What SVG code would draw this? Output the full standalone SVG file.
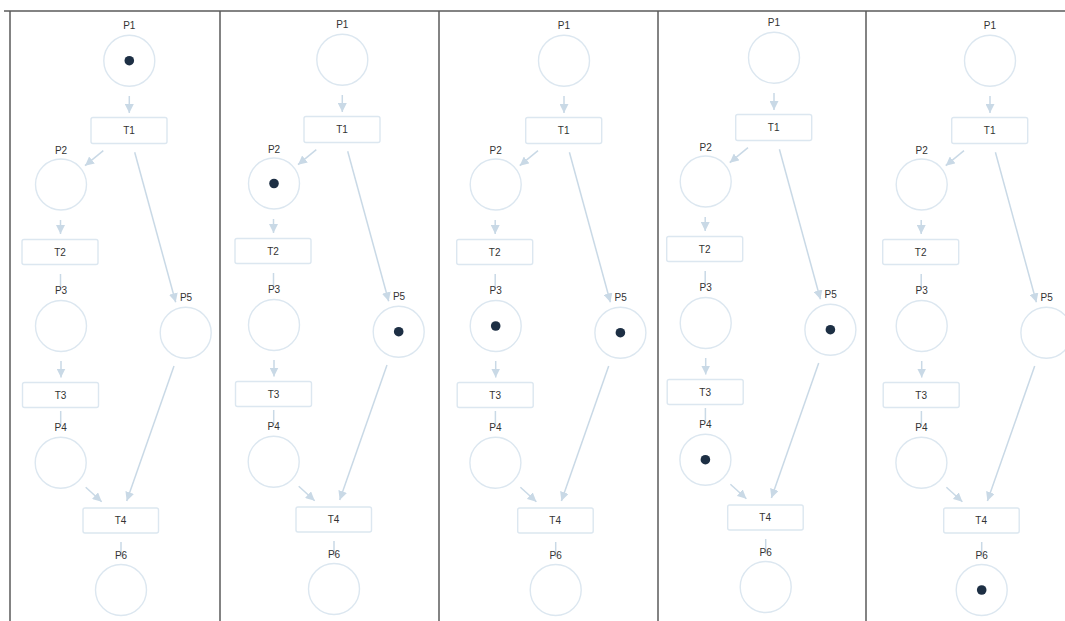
<svg xmlns="http://www.w3.org/2000/svg" width="1065" height="621" viewBox="0 0 1065 621">
<style>
.bg{fill:#ffffff}
.frame{stroke:#5a5a5a;stroke-width:1.5;fill:none}
.place{fill:#ffffff;stroke:#dce7f0;stroke-width:1.4}
.trans{fill:#ffffff;stroke:#dce7f0;stroke-width:1.4}
.lbl{font-family:"Liberation Sans",Arial,sans-serif;font-size:10px;fill:#333333;text-anchor:middle;dominant-baseline:central}
.arc{stroke:#c9d9e6;stroke-width:1.5;fill:none}
.arr{marker-end:url(#ah)}
.tok{fill:#1d2f44}
</style>
<defs>
<marker id="ah" markerUnits="userSpaceOnUse" markerWidth="9" markerHeight="9" refX="8" refY="4" orient="auto" viewBox="0 0 8 8">
<path d="M0,0 L8,4 L0,8 z" fill="#c9d9e6"/>
</marker>
</defs>
<rect class="bg" x="0" y="0" width="1065" height="621"/>
<g id="frames">
<line class="frame" x1="4" y1="11" x2="1065" y2="11"/>
<line class="frame" x1="10" y1="11" x2="10" y2="621"/>
<line class="frame" x1="220" y1="11" x2="220" y2="621"/>
<line class="frame" x1="439" y1="11" x2="439" y2="621"/>
<line class="frame" x1="658" y1="11" x2="658" y2="621"/>
<line class="frame" x1="866" y1="11" x2="866" y2="621"/>
</g>

<!-- Panel 1 -->
<g id="panel1">
<g id="panel1-connectors">
<line class="arc arr" x1="129.3" y1="96" x2="129.3" y2="113"/>
<line class="arc arr" x1="103.3" y1="150.7" x2="85" y2="165.7"/>
<line class="arc arr" x1="134.7" y1="152.3" x2="175.7" y2="302.3"/>
<line class="arc arr" x1="60.5" y1="220" x2="60.5" y2="234"/>
<line class="arc" x1="60.5" y1="274" x2="60.5" y2="289"/>
<line class="arc arr" x1="61" y1="361" x2="61" y2="377.5"/>
<line class="arc" x1="60.7" y1="411" x2="60.7" y2="426"/>
<line class="arc arr" x1="174" y1="366" x2="126.7" y2="501"/>
<line class="arc arr" x1="85.7" y1="487.3" x2="101.7" y2="501.7"/>
<line class="arc" x1="121" y1="542" x2="121" y2="557"/>
</g>
<g id="panel1-P1"><text class="lbl" x="129.3" y="25">P1</text><circle class="place" cx="129.3" cy="60.7" r="25.5"/><circle class="tok" cx="129.3" cy="60.7" r="4.8"/></g>
<g id="panel1-T1"><rect class="trans" x="91" y="117.5" width="76" height="26" rx="2"/><text class="lbl" x="129" y="130.5">T1</text></g>
<g id="panel1-P2"><text class="lbl" x="61" y="150">P2</text><circle class="place" cx="61" cy="184.5" r="25.5"/></g>
<g id="panel1-T2"><rect class="trans" x="22" y="239.5" width="76" height="25" rx="2"/><text class="lbl" x="60" y="252">T2</text></g>
<g id="panel1-P3"><text class="lbl" x="61" y="290.5">P3</text><circle class="place" cx="61" cy="326" r="25.5"/></g>
<g id="panel1-P5"><text class="lbl" x="186" y="297.3">P5</text><circle class="place" cx="185.7" cy="332.7" r="25.5"/></g>
<g id="panel1-T3"><rect class="trans" x="22.5" y="382.5" width="76" height="25" rx="2"/><text class="lbl" x="60.5" y="395">T3</text></g>
<g id="panel1-P4"><text class="lbl" x="60.7" y="427.5">P4</text><circle class="place" cx="60.7" cy="462.7" r="25.5"/></g>
<g id="panel1-T4"><rect class="trans" x="83" y="508" width="75.5" height="25" rx="2"/><text class="lbl" x="120.5" y="520.5">T4</text></g>
<g id="panel1-P6"><text class="lbl" x="121" y="555">P6</text><circle class="place" cx="121" cy="590" r="25.5"/></g>
</g>

<!-- Panel 2 -->
<g id="panel2" transform="translate(213,-1)">
<g id="panel2-connectors">
<line class="arc arr" x1="129.3" y1="96" x2="129.3" y2="113"/>
<line class="arc arr" x1="103.3" y1="150.7" x2="85" y2="165.7"/>
<line class="arc arr" x1="134.7" y1="152.3" x2="175.7" y2="302.3"/>
<line class="arc arr" x1="60.5" y1="220" x2="60.5" y2="234"/>
<line class="arc" x1="60.5" y1="274" x2="60.5" y2="289"/>
<line class="arc arr" x1="61" y1="361" x2="61" y2="377.5"/>
<line class="arc" x1="60.7" y1="411" x2="60.7" y2="426"/>
<line class="arc arr" x1="174" y1="366" x2="126.7" y2="501"/>
<line class="arc arr" x1="85.7" y1="487.3" x2="101.7" y2="501.7"/>
<line class="arc" x1="121" y1="542" x2="121" y2="557"/>
</g>
<g id="panel2-P1"><text class="lbl" x="129.3" y="25">P1</text><circle class="place" cx="129.3" cy="60.7" r="25.5"/></g>
<g id="panel2-T1"><rect class="trans" x="91" y="117.5" width="76" height="26" rx="2"/><text class="lbl" x="129" y="130.5">T1</text></g>
<g id="panel2-P2"><text class="lbl" x="61" y="150">P2</text><circle class="place" cx="61" cy="184.5" r="25.5"/><circle class="tok" cx="61" cy="184.5" r="4.8"/></g>
<g id="panel2-T2"><rect class="trans" x="22" y="239.5" width="76" height="25" rx="2"/><text class="lbl" x="60" y="252">T2</text></g>
<g id="panel2-P3"><text class="lbl" x="61" y="290.5">P3</text><circle class="place" cx="61" cy="326" r="25.5"/></g>
<g id="panel2-P5"><text class="lbl" x="186" y="297.3">P5</text><circle class="place" cx="185.7" cy="332.7" r="25.5"/><circle class="tok" cx="185.7" cy="332.7" r="4.8"/></g>
<g id="panel2-T3"><rect class="trans" x="22.5" y="382.5" width="76" height="25" rx="2"/><text class="lbl" x="60.5" y="395">T3</text></g>
<g id="panel2-P4"><text class="lbl" x="60.7" y="427.5">P4</text><circle class="place" cx="60.7" cy="462.7" r="25.5"/></g>
<g id="panel2-T4"><rect class="trans" x="83" y="508" width="75.5" height="25" rx="2"/><text class="lbl" x="120.5" y="520.5">T4</text></g>
<g id="panel2-P6"><text class="lbl" x="121" y="555">P6</text><circle class="place" cx="121" cy="590" r="25.5"/></g>
</g>

<!-- Panel 3 -->
<g id="panel3" transform="translate(434.7,0)">
<g id="panel3-connectors">
<line class="arc arr" x1="129.3" y1="96" x2="129.3" y2="113"/>
<line class="arc arr" x1="103.3" y1="150.7" x2="85" y2="165.7"/>
<line class="arc arr" x1="134.7" y1="152.3" x2="175.7" y2="302.3"/>
<line class="arc arr" x1="60.5" y1="220" x2="60.5" y2="234"/>
<line class="arc" x1="60.5" y1="274" x2="60.5" y2="289"/>
<line class="arc arr" x1="61" y1="361" x2="61" y2="377.5"/>
<line class="arc" x1="60.7" y1="411" x2="60.7" y2="426"/>
<line class="arc arr" x1="174" y1="366" x2="126.7" y2="501"/>
<line class="arc arr" x1="85.7" y1="487.3" x2="101.7" y2="501.7"/>
<line class="arc" x1="121" y1="542" x2="121" y2="557"/>
</g>
<g id="panel3-P1"><text class="lbl" x="129.3" y="25">P1</text><circle class="place" cx="129.3" cy="60.7" r="25.5"/></g>
<g id="panel3-T1"><rect class="trans" x="91" y="117.5" width="76" height="26" rx="2"/><text class="lbl" x="129" y="130.5">T1</text></g>
<g id="panel3-P2"><text class="lbl" x="61" y="150">P2</text><circle class="place" cx="61" cy="184.5" r="25.5"/></g>
<g id="panel3-T2"><rect class="trans" x="22" y="239.5" width="76" height="25" rx="2"/><text class="lbl" x="60" y="252">T2</text></g>
<g id="panel3-P3"><text class="lbl" x="61" y="290.5">P3</text><circle class="place" cx="61" cy="326" r="25.5"/><circle class="tok" cx="61" cy="326" r="4.8"/></g>
<g id="panel3-P5"><text class="lbl" x="186" y="297.3">P5</text><circle class="place" cx="185.7" cy="332.7" r="25.5"/><circle class="tok" cx="185.7" cy="332.7" r="4.8"/></g>
<g id="panel3-T3"><rect class="trans" x="22.5" y="382.5" width="76" height="25" rx="2"/><text class="lbl" x="60.5" y="395">T3</text></g>
<g id="panel3-P4"><text class="lbl" x="60.7" y="427.5">P4</text><circle class="place" cx="60.7" cy="462.7" r="25.5"/></g>
<g id="panel3-T4"><rect class="trans" x="83" y="508" width="75.5" height="25" rx="2"/><text class="lbl" x="120.5" y="520.5">T4</text></g>
<g id="panel3-P6"><text class="lbl" x="121" y="555">P6</text><circle class="place" cx="121" cy="590" r="25.5"/></g>
</g>

<!-- Panel 4 -->
<g id="panel4" transform="translate(644.7,-3)">
<g id="panel4-connectors">
<line class="arc arr" x1="129.3" y1="96" x2="129.3" y2="113"/>
<line class="arc arr" x1="103.3" y1="150.7" x2="85" y2="165.7"/>
<line class="arc arr" x1="134.7" y1="152.3" x2="175.7" y2="302.3"/>
<line class="arc arr" x1="60.5" y1="220" x2="60.5" y2="234"/>
<line class="arc" x1="60.5" y1="274" x2="60.5" y2="289"/>
<line class="arc arr" x1="61" y1="361" x2="61" y2="377.5"/>
<line class="arc" x1="60.7" y1="411" x2="60.7" y2="426"/>
<line class="arc arr" x1="174" y1="366" x2="126.7" y2="501"/>
<line class="arc arr" x1="85.7" y1="487.3" x2="101.7" y2="501.7"/>
<line class="arc" x1="121" y1="542" x2="121" y2="557"/>
</g>
<g id="panel4-P1"><text class="lbl" x="129.3" y="25">P1</text><circle class="place" cx="129.3" cy="60.7" r="25.5"/></g>
<g id="panel4-T1"><rect class="trans" x="91" y="117.5" width="76" height="26" rx="2"/><text class="lbl" x="129" y="130.5">T1</text></g>
<g id="panel4-P2"><text class="lbl" x="61" y="150">P2</text><circle class="place" cx="61" cy="184.5" r="25.5"/></g>
<g id="panel4-T2"><rect class="trans" x="22" y="239.5" width="76" height="25" rx="2"/><text class="lbl" x="60" y="252">T2</text></g>
<g id="panel4-P3"><text class="lbl" x="61" y="290.5">P3</text><circle class="place" cx="61" cy="326" r="25.5"/></g>
<g id="panel4-P5"><text class="lbl" x="186" y="297.3">P5</text><circle class="place" cx="185.7" cy="332.7" r="25.5"/><circle class="tok" cx="185.7" cy="332.7" r="4.8"/></g>
<g id="panel4-T3"><rect class="trans" x="22.5" y="382.5" width="76" height="25" rx="2"/><text class="lbl" x="60.5" y="395">T3</text></g>
<g id="panel4-P4"><text class="lbl" x="60.7" y="427.5">P4</text><circle class="place" cx="60.7" cy="462.7" r="25.5"/><circle class="tok" cx="60.7" cy="462.7" r="4.8"/></g>
<g id="panel4-T4"><rect class="trans" x="83" y="508" width="75.5" height="25" rx="2"/><text class="lbl" x="120.5" y="520.5">T4</text></g>
<g id="panel4-P6"><text class="lbl" x="121" y="555">P6</text><circle class="place" cx="121" cy="590" r="25.5"/></g>
</g>

<!-- Panel 5 -->
<g id="panel5" transform="translate(860.7,0)">
<g id="panel5-connectors">
<line class="arc arr" x1="129.3" y1="96" x2="129.3" y2="113"/>
<line class="arc arr" x1="103.3" y1="150.7" x2="85" y2="165.7"/>
<line class="arc arr" x1="134.7" y1="152.3" x2="175.7" y2="302.3"/>
<line class="arc arr" x1="60.5" y1="220" x2="60.5" y2="234"/>
<line class="arc" x1="60.5" y1="274" x2="60.5" y2="289"/>
<line class="arc arr" x1="61" y1="361" x2="61" y2="377.5"/>
<line class="arc" x1="60.7" y1="411" x2="60.7" y2="426"/>
<line class="arc arr" x1="174" y1="366" x2="126.7" y2="501"/>
<line class="arc arr" x1="85.7" y1="487.3" x2="101.7" y2="501.7"/>
<line class="arc" x1="121" y1="542" x2="121" y2="557"/>
</g>
<g id="panel5-P1"><text class="lbl" x="129.3" y="25">P1</text><circle class="place" cx="129.3" cy="60.7" r="25.5"/></g>
<g id="panel5-T1"><rect class="trans" x="91" y="117.5" width="76" height="26" rx="2"/><text class="lbl" x="129" y="130.5">T1</text></g>
<g id="panel5-P2"><text class="lbl" x="61" y="150">P2</text><circle class="place" cx="61" cy="184.5" r="25.5"/></g>
<g id="panel5-T2"><rect class="trans" x="22" y="239.5" width="76" height="25" rx="2"/><text class="lbl" x="60" y="252">T2</text></g>
<g id="panel5-P3"><text class="lbl" x="61" y="290.5">P3</text><circle class="place" cx="61" cy="326" r="25.5"/></g>
<g id="panel5-P5"><text class="lbl" x="186" y="297.3">P5</text><circle class="place" cx="185.7" cy="332.7" r="25.5"/></g>
<g id="panel5-T3"><rect class="trans" x="22.5" y="382.5" width="76" height="25" rx="2"/><text class="lbl" x="60.5" y="395">T3</text></g>
<g id="panel5-P4"><text class="lbl" x="60.7" y="427.5">P4</text><circle class="place" cx="60.7" cy="462.7" r="25.5"/></g>
<g id="panel5-T4"><rect class="trans" x="83" y="508" width="75.5" height="25" rx="2"/><text class="lbl" x="120.5" y="520.5">T4</text></g>
<g id="panel5-P6"><text class="lbl" x="121" y="555">P6</text><circle class="place" cx="121" cy="590" r="25.5"/><circle class="tok" cx="121" cy="590" r="4.8"/></g>
</g>
</svg>
